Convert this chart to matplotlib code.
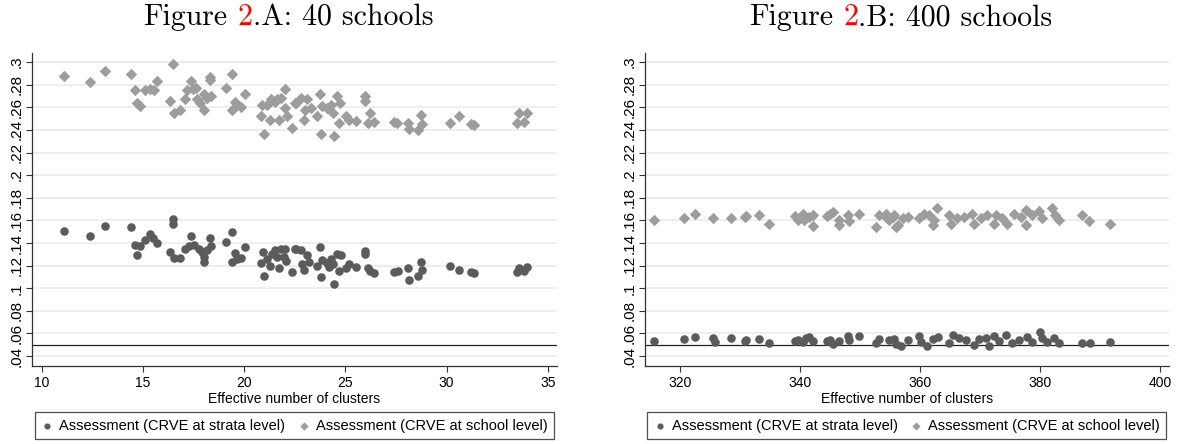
import numpy as np
import matplotlib
matplotlib.use("Agg")
import matplotlib.pyplot as plt

plt.rcParams['font.family'] = ['Liberation Sans', 'DejaVu Sans']

# panel A: 40 schools
x_strata_a = [11.10, 12.39, 13.13, 14.42, 14.62, 14.70, 14.87, 15.11, 15.36, 15.52,
              15.69, 16.32, 16.47, 16.47, 16.52, 16.85, 17.09, 17.26, 17.37, 17.50,
              17.75, 17.91, 18.00, 18.03, 18.17, 18.33, 18.36, 19.11, 19.40, 19.40,
              19.57, 19.65, 19.85, 20.06, 20.84, 20.92, 20.97, 21.14, 21.27, 21.39,
              21.50, 21.63, 21.71, 21.80, 21.97, 22.04, 22.09, 22.37, 22.49, 22.54,
              22.79, 22.87, 22.95, 23.12, 23.20, 23.58, 23.74, 23.81, 23.85, 24.10,
              24.18, 24.27, 24.40, 24.43, 24.60, 24.68, 24.76, 25.02, 25.18, 25.51,
              25.96, 25.96, 26.12, 26.22, 26.42, 27.41, 27.61, 28.07, 28.15, 28.60,
              28.73, 28.76, 30.18, 30.63, 31.21, 31.34, 33.48, 33.60, 33.82, 33.98]
y_strata_a = [0.151, 0.146, 0.155, 0.154, 0.138, 0.129, 0.137, 0.143, 0.148, 0.144,
              0.140, 0.132, 0.161, 0.157, 0.127, 0.127, 0.135, 0.137, 0.146, 0.138,
              0.135, 0.132, 0.128, 0.123, 0.134, 0.144, 0.137, 0.141, 0.150, 0.123,
              0.131, 0.126, 0.127, 0.136, 0.122, 0.132, 0.111, 0.126, 0.120, 0.130,
              0.134, 0.128, 0.118, 0.135, 0.128, 0.135, 0.124, 0.114, 0.135, 0.135,
              0.134, 0.121, 0.116, 0.129, 0.123, 0.120, 0.136, 0.110, 0.125, 0.122,
              0.119, 0.126, 0.121, 0.104, 0.130, 0.115, 0.129, 0.118, 0.121, 0.119,
              0.133, 0.130, 0.118, 0.115, 0.113, 0.114, 0.115, 0.118, 0.107, 0.111,
              0.123, 0.116, 0.120, 0.116, 0.114, 0.113, 0.114, 0.118, 0.115, 0.119]
x_school_a = [11.10, 12.39, 13.13, 14.42, 14.62, 14.70, 14.87, 15.11, 15.36, 15.56,
              15.69, 16.32, 16.47, 16.52, 16.85, 17.09, 17.18, 17.37, 17.47, 17.64,
              17.67, 17.84, 18.00, 18.03, 18.17, 18.30, 18.33, 18.36, 19.11, 19.40,
              19.40, 19.57, 19.65, 19.85, 20.06, 20.81, 20.89, 20.97, 21.14, 21.27,
              21.33, 21.50, 21.63, 21.71, 21.80, 22.04, 22.04, 22.13, 22.37, 22.49,
              22.54, 22.79, 22.95, 22.98, 23.12, 23.28, 23.61, 23.74, 23.81, 23.85,
              24.10, 24.27, 24.40, 24.43, 24.57, 24.73, 24.68, 25.02, 25.18, 25.51,
              25.96, 25.96, 26.12, 26.22, 26.42, 27.41, 27.57, 28.07, 28.15, 28.60,
              28.73, 28.76, 30.18, 30.63, 31.21, 31.34, 33.48, 33.60, 33.82, 33.98]
y_school_a = [0.288, 0.282, 0.292, 0.289, 0.275, 0.264, 0.261, 0.275, 0.276, 0.275,
              0.283, 0.266, 0.298, 0.255, 0.258, 0.267, 0.275, 0.283, 0.276, 0.277,
              0.267, 0.264, 0.258, 0.272, 0.268, 0.287, 0.284, 0.270, 0.277, 0.289,
              0.258, 0.265, 0.262, 0.260, 0.272, 0.252, 0.262, 0.236, 0.262, 0.249,
              0.267, 0.265, 0.267, 0.249, 0.268, 0.276, 0.259, 0.252, 0.242, 0.264,
              0.264, 0.268, 0.249, 0.258, 0.267, 0.259, 0.252, 0.272, 0.236, 0.261,
              0.259, 0.262, 0.255, 0.235, 0.270, 0.264, 0.246, 0.252, 0.249, 0.248,
              0.270, 0.266, 0.246, 0.255, 0.247, 0.247, 0.246, 0.246, 0.241, 0.240,
              0.253, 0.245, 0.246, 0.252, 0.245, 0.244, 0.246, 0.255, 0.247, 0.255]

# panel B: 400 schools
x_strata_b = [315.73, 320.66, 322.49, 325.54, 325.82, 328.48, 330.80, 331.08, 333.19, 334.85,
              339.28, 339.67, 340.61, 341.05, 341.61, 342.16, 344.54, 345.10, 345.49, 346.48,
              347.98, 348.14, 349.81, 352.69, 353.24, 354.90, 355.74, 356.01, 356.85, 357.95,
              359.89, 360.17, 361.27, 362.11, 363.10, 364.93, 365.60, 366.59, 367.70, 369.03,
              369.86, 370.97, 371.53, 372.35, 373.19, 374.29, 375.40, 376.51, 377.90, 378.73,
              379.95, 380.39, 381.22, 382.33, 383.16, 387.06, 388.29, 391.75]
y_strata_b = [0.0536, 0.0547, 0.0571, 0.0556, 0.0527, 0.0556, 0.0536, 0.0542, 0.0547, 0.0518,
              0.0536, 0.0542, 0.0527, 0.0556, 0.0565, 0.0536, 0.0536, 0.0542, 0.0503, 0.0536,
              0.0577, 0.0542, 0.0577, 0.0512, 0.0547, 0.0542, 0.0547, 0.0506, 0.0488, 0.0542,
              0.0577, 0.0527, 0.0488, 0.0547, 0.0565, 0.0518, 0.0586, 0.0556, 0.0542, 0.0497,
              0.0547, 0.0556, 0.0488, 0.0577, 0.0536, 0.0586, 0.0518, 0.0542, 0.0565, 0.0527,
              0.0615, 0.0556, 0.0527, 0.0556, 0.0512, 0.0518, 0.0518, 0.0527]
x_school_b = [315.73, 320.66, 322.49, 325.54, 328.48, 330.80, 331.08, 333.19, 334.85, 339.28,
              339.67, 340.61, 340.78, 341.61, 342.16, 342.27, 344.54, 345.10, 345.60, 346.48,
              346.59, 347.98, 348.14, 349.81, 352.69, 353.24, 354.35, 354.46, 354.90, 355.46,
              355.73, 356.01, 356.29, 357.12, 357.95, 359.89, 360.72, 361.55, 362.11, 362.38,
              362.94, 364.93, 365.15, 366.26, 367.37, 368.75, 369.03, 370.14, 371.25, 372.35,
              372.63, 373.74, 374.57, 375.68, 376.79, 377.62, 377.62, 378.73, 379.83, 380.39,
              382.05, 382.60, 383.16, 387.00, 388.26, 391.75]
y_school_b = [0.160, 0.162, 0.166, 0.162, 0.162, 0.163, 0.164, 0.165, 0.157, 0.164,
              0.160, 0.166, 0.160, 0.163, 0.165, 0.155, 0.164, 0.166, 0.167, 0.156,
              0.160, 0.165, 0.159, 0.166, 0.154, 0.165, 0.166, 0.162, 0.160, 0.163,
              0.165, 0.154, 0.156, 0.162, 0.163, 0.162, 0.166, 0.165, 0.156, 0.160,
              0.171, 0.165, 0.157, 0.162, 0.163, 0.166, 0.157, 0.162, 0.165, 0.157,
              0.165, 0.162, 0.157, 0.166, 0.163, 0.156, 0.169, 0.165, 0.168, 0.162,
              0.171, 0.165, 0.160, 0.165, 0.159, 0.157]

y_ticks = [0.04, 0.06, 0.08, 0.1, 0.12, 0.14, 0.16, 0.18, 0.2, 0.22, 0.24, 0.26, 0.28, 0.3]
y_tick_labels = ['.04', '.06', '.08', '.1', '.12', '.14', '.16', '.18', '.2', '.22', '.24', '.26', '.28', '.3']
x_ticks_a = [10, 15, 20, 25, 30, 35]
x_ticks_b = [320, 340, 360, 380, 400]
reference_line = 0.05

label_strata = 'Assessment (CRVE at strata level)'
label_school = 'Assessment (CRVE at school level)'

dark = '#5b5b5b'
light = '#9d9d9d'
fs = 10

fig = plt.figure(figsize=(11.78, 4.44), dpi=100)
ax1 = fig.add_axes([0.0272, 0.1757, 0.4454, 0.7049])
ax2 = fig.add_axes([0.5475, 0.1757, 0.4448, 0.7049])


def style_panel(ax, xs_c, ys_c, xs_d, ys_d, xticks, xlim):
    ax.scatter(xs_c, ys_c, s=38, marker='o', color=dark, linewidths=0, zorder=3, label=label_strata)
    ax.scatter(xs_d, ys_d, s=34, marker='D', color=light, linewidths=0, zorder=3, label=label_school)
    ax.axhline(reference_line, color='#222222', lw=0.9, zorder=2)
    ax.set_xlim(*xlim)
    ax.set_ylim(0.0312, 0.308)
    ax.set_yticks(y_ticks)
    ax.set_yticklabels(y_tick_labels, rotation=90, va='center', fontsize=11)
    ax.set_xticks(xticks)
    ax.grid(axis='y', color='#eaeaea', lw=1.1, zorder=0)
    ax.set_axisbelow(True)
    for s in ['top', 'right']:
        ax.spines[s].set_visible(False)
    for s in ['left', 'bottom']:
        ax.spines[s].set_color('#333333')
        ax.spines[s].set_linewidth(0.9)
    ax.tick_params(direction='out', length=4, width=0.8, color='#333333', pad=2)
    ax.tick_params(axis='x', labelsize=fs, pad=3)
    ax.set_xlabel('Effective number of clusters', fontsize=fs, labelpad=2)
    leg = ax.legend(loc='upper center', bbox_to_anchor=(0.5, -0.147), ncol=2, fontsize=10.5,
                    frameon=True, fancybox=False, edgecolor='#222222', borderpad=0.45,
                    handletextpad=0.4, columnspacing=0.9, markerscale=0.72, handlelength=0.8,
                    borderaxespad=0)
    leg.get_frame().set_linewidth(0.9)


style_panel(ax1, x_strata_a, y_strata_a, x_school_a, y_school_a, x_ticks_a, (9.52, 35.44))
style_panel(ax2, x_strata_b, y_strata_b, x_school_b, y_school_b, x_ticks_b, (314.2, 401.5))

# titles with red figure number
fig.canvas.draw()
r = fig.canvas.get_renderer()
tfs = 21.5


def width_of(s):
    t = fig.text(0, 0, s, family='cmr10', fontsize=tfs)
    w = t.get_window_extent(r).width
    t.remove()
    return w


for ax, tail in [(ax1, '.A: 40 schools'), (ax2, '.B: 400 schools')]:
    full = 'Figure 2' + tail
    bb = ax.get_position()
    cx = (bb.x0 + bb.x1) / 2 * fig.bbox.width - 6
    x0 = cx - width_of(full) / 2
    ty = 0.96
    fig.text(x0 / fig.bbox.width, ty, 'Figure', family='cmr10', fontsize=tfs, va='center')
    fig.text((x0 + width_of('Figure 2')) / fig.bbox.width, ty, '2', family='cmr10',
             fontsize=tfs, va='center', ha='right', color='red')
    fig.text((x0 + width_of(full)) / fig.bbox.width, ty, tail, family='cmr10',
             fontsize=tfs, va='center', ha='right')

fig.savefig('out.png', dpi=100)
